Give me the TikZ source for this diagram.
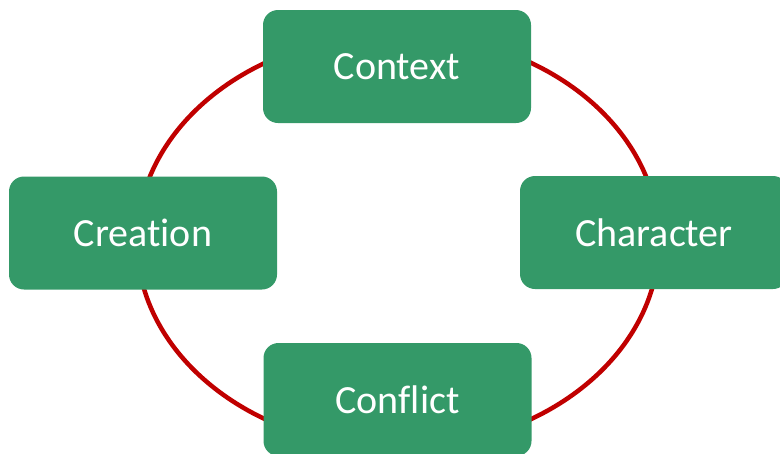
\documentclass[tikz,border=0pt]{standalone}
\usepackage{fontspec}
\setmainfont{Carlito}[Ligatures=NoCommon]
\definecolor{boxgreen}{RGB}{52,153,104}
\definecolor{ringred}{RGB}{192,0,0}
\tikzset{
  stagebox/.style={draw=none, fill=boxgreen, rounded corners=15pt,
    minimum width=268pt, minimum height=113pt, inner sep=0pt,
    text=white, font=\fontsize{40}{45}\selectfont},
  ring/.style={draw=ringred, line width=4.5pt}
}
\begin{document}
\begin{tikzpicture}[x=1pt,y=-1pt]
\useasboundingbox (0,0) rectangle (780,453);
\draw[ring] (398,241) ellipse [x radius=261pt, y radius=207pt];
\node[stagebox] (context) at (397,66.5) {Context};
\node[stagebox] (creation) at (143,233) {Creation};
\node[stagebox] (character) at (654,232.5) {Character};
\node[stagebox] (conflict) at (397.5,399.5) {Conflict};
\end{tikzpicture}
\end{document}
